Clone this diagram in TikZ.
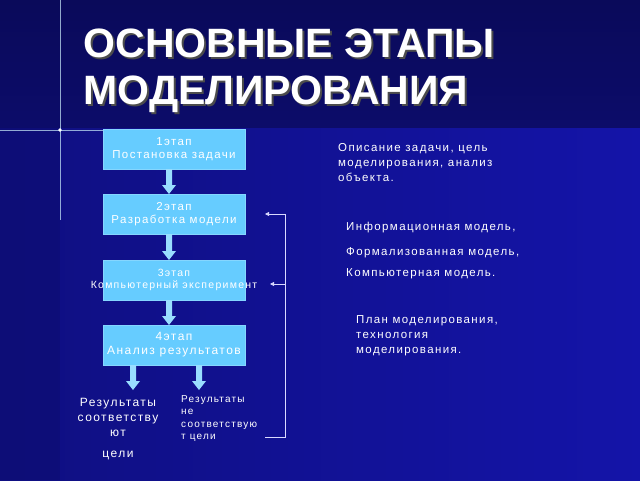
\documentclass[tikz,border=0pt]{standalone}
\usepackage{fontspec}
\setmainfont{Liberation Sans}
\newfontfamily\wide[LetterSpace=12]{Liberation Sans}
\usetikzlibrary{arrows.meta}
\definecolor{boxc}{HTML}{66CCFF}
\definecolor{topc}{HTML}{0A0A5A}
\definecolor{botc}{HTML}{1414A8}
\definecolor{fat}{HTML}{99DDFF}
\tikzset{
  stage/.style={fill=boxc,draw=boxc!80!white,minimum width=142pt,minimum height=40pt,inner sep=0pt,align=center,text=white,font=\wide\fontsize{11.5}{13}\selectfont},
  note/.style={text=white,align=left,anchor=north west,font=\wide\fontsize{11.5}{15}\selectfont,inner sep=0pt},
  fb/.style={draw=white!85!blue,line width=0.8pt},
}
\newcommand{\fatdown}[3]{% x, ytop, ybot
  \fill[fat] (#1-3,#2) -- (#1+3,#2) -- (#1+3,#3-9) -- (#1+7,#3-9) -- (#1,#3) -- (#1-7,#3-9) -- (#1-3,#3-9) -- cycle;}
\begin{document}
\begin{tikzpicture}[x=1pt,y=-1pt]
\useasboundingbox (0,0) rectangle (640,480);
\shade[top color=topc,bottom color=topc!80!botc] (0,0) rectangle (640,128);
\shade[left color=botc!50!topc,right color=botc] (0,128) rectangle (640,480);
\fill[topc!70!botc,opacity=0.6] (0,128) rectangle (60,480);
% star flare
\draw[white!80!cyan,line width=0.4pt,opacity=0.7] (0,130) -- (120,130) (60,0) -- (60,220);
\fill[white] (60,130) circle (1.8pt);
% title
\node[anchor=west,text=black!70,font=\bfseries\fontsize{41}{47}\selectfont,align=left] at (82,73) {ОСНОВНЫЕ ЭТАПЫ\\МОДЕЛИРОВАНИЯ};
\node[anchor=west,text=white,font=\bfseries\fontsize{41}{47}\selectfont,align=left] (title) at (80,71) {ОСНОВНЫЕ ЭТАПЫ\\МОДЕЛИРОВАНИЯ};
% stages
\node[stage] (s1) at (174,149) {1этап\\Постановка задачи};
\node[stage] (s2) at (174,214) {2этап\\Разработка модели};
\node[stage] (s3) at (174,280) {};
\node[text=white,align=center,font=\wide\fontsize{10.5}{12.5}\selectfont,inner sep=0pt] (s3t) at (s3) {3этап\\Компьютерный эксперимент};
\node[stage,font=\wide\fontsize{12}{14}\selectfont] (s4) at (174,345) {4этап\\Анализ результатов};
\fatdown{169}{169}{194}
\fatdown{169}{234}{260}
\fatdown{169}{300}{325}
\fatdown{133}{365}{390}
\fatdown{199}{365}{390}
% results
\node[text=white,align=center,font=\wide\fontsize{12}{15}\selectfont,anchor=north] (r1) at (118,395) {Результаты\\соответству\\ют};
\node[text=white,font=\wide\fontsize{12}{14}\selectfont] (r1b) at (118,455) {цели};
\node[text=white,align=left,font=\wide\fontsize{10}{12.5}\selectfont,anchor=north west,inner sep=0pt] (r2) at (181,395) {Результаты\\не\\соответствую\\т цели};
% feedback
\coordinate (fb0) at (265,437);
\coordinate (fbc) at (285,437);
\coordinate (fbt) at (285,214);
\coordinate (a2) at (265,214);
\coordinate (b3) at (285,284);
\coordinate (a3) at (270,284);
\draw[fb] (fb0) -- (fbc) -- (fbt);
\draw[fb,-{Triangle[length=4pt,width=4pt]}] (fbt) -- (a2);
\draw[fb,-{Triangle[length=4pt,width=4pt]}] (b3) -- (a3);
% notes
\node[note] (n1) at (338,143) {Описание задачи, цель\\моделирования, анализ\\объекта.};
\node[note] (n2) at (346,222) {Информационная модель,};
\node[note] (n3) at (346,247) {Формализованная модель,};
\node[note] (n4) at (346,268) {Компьютерная модель.};
\node[note] (n5) at (356,315) {План моделирования,\\технология\\моделирования.};
\end{tikzpicture}
\end{document}
